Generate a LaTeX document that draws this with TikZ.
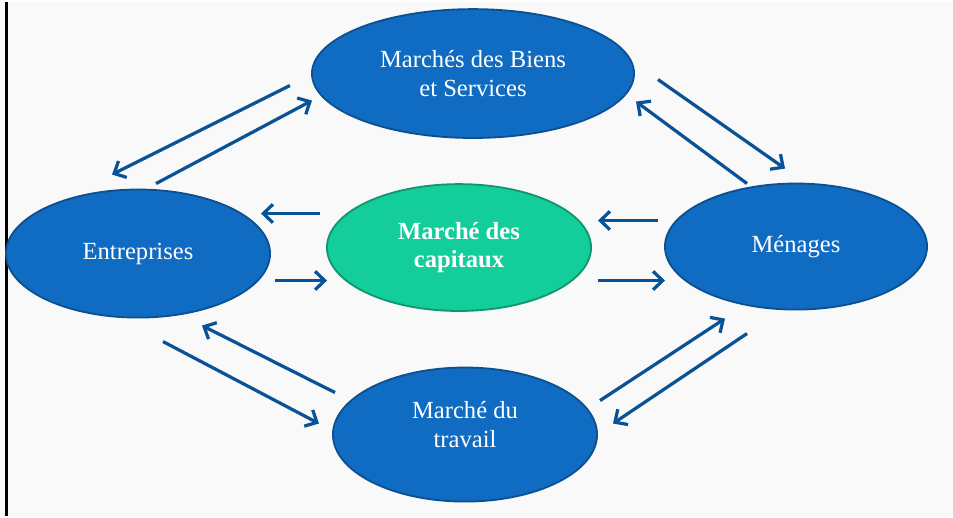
\documentclass[tikz,border=0pt]{standalone}
\usepackage{fontspec}
\setmainfont{Liberation Serif}
\usetikzlibrary{shapes.geometric,arrows.meta}
\definecolor{bleu}{RGB}{15,108,194}
\definecolor{bleufonce}{RGB}{12,80,145}
\definecolor{vert}{RGB}{19,206,154}
\definecolor{vertfonce}{RGB}{16,150,112}
\definecolor{fleche}{RGB}{10,82,150}
\definecolor{fond}{RGB}{249,249,249}

\begin{document}
\begin{tikzpicture}[x=0.025cm,y=-0.025cm,
    marche/.style={ellipse,draw=bleufonce,line width=1.3pt,fill=bleu,text=white,
        align=center,inner sep=0pt,font=\fontsize{17.5}{20.5}\selectfont},
    flux/.style={draw=fleche,line width=2.3pt,-{Straight Barb[length=2.4mm,width=4.6mm]}}]
                \fill[fond] (0,0) rectangle (953,514);
                \draw[line width=2.2pt] (6.5,0)--(6.5,514);
                % marches
                \node[marche,minimum width=8.05cm,minimum height=3.22cm] (biens) at (473,72) {Marchés des Biens\\et Services};
                \node[marche,minimum width=6.6cm,minimum height=3.2cm] (ent) at (138,252) {Entreprises};
                \node[marche,minimum width=6.55cm,minimum height=3.15cm] (men) at (796,245) {Ménages};
                \node[marche,minimum width=6.6cm,minimum height=3.35cm] (trav) at (465,433)
                    {\raisebox{0.6pt}[0pt][0pt]{\begin{tabular}{@{}c@{}}Marché du\\travail\end{tabular}}};
                \node[marche,draw=vertfonce,fill=vert,font=\fontsize{17.5}{20.5}\selectfont\bfseries,
                    minimum width=6.6cm,minimum height=3.17cm] (cap) at (459,246) {Marché des\\capitaux};
                % bouts des fleches
                \coordinate (a1) at (290,84);  \coordinate (a2) at (112,173);
                \coordinate (b1) at (156,182); \coordinate (b2) at (312,99);
                \coordinate (c1) at (658,78);  \coordinate (c2) at (785,167);
                \coordinate (d1) at (747,182); \coordinate (d2) at (636,100);
                \coordinate (e1) at (320,212); \coordinate (e2) at (261,212);
                \coordinate (f1) at (275,279); \coordinate (f2) at (327,279);
                \coordinate (g1) at (658,219); \coordinate (g2) at (598,219);
                \coordinate (h1) at (598,279); \coordinate (h2) at (665,279);
                \coordinate (i1) at (600,399); \coordinate (i2) at (725,317);
                \coordinate (j1) at (747,332); \coordinate (j2) at (613,422);
                \coordinate (k1) at (163,340); \coordinate (k2) at (319,422);
                \coordinate (l1) at (335,391); \coordinate (l2) at (202,324);
                \foreach \p in {a,b,c,d,e,f,g,h,i,j,k,l}
                    \draw[flux] (\p1)--(\p2);
            \end{tikzpicture}
\end{document}
